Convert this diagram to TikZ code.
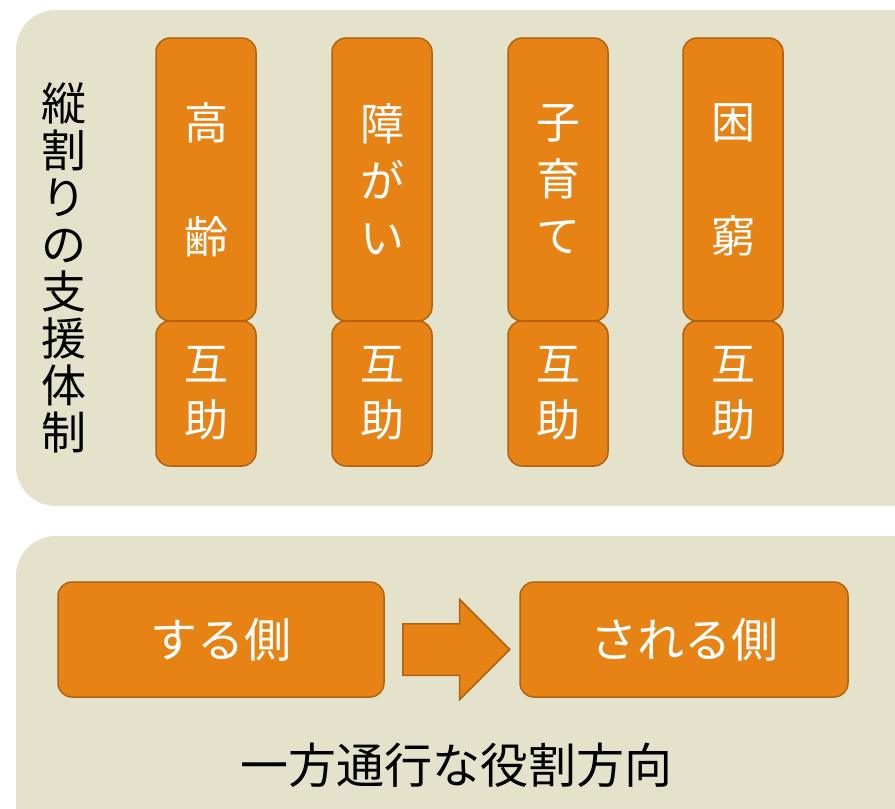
\documentclass[tikz,border=0pt]{standalone}
\usepackage{fontspec}
\setmainfont{Noto Sans CJK JP}
\usepackage{tikz}
\usetikzlibrary{shapes.arrows,positioning}
\definecolor{panelbg}{RGB}{228,226,203}
\definecolor{boxorange}{RGB}{230,131,20}
\definecolor{boxedge}{RGB}{176,98,14}
\tikzstyle{field} = [rectangle, rounded corners=14pt, draw=boxedge, fill=boxorange, line width=1.5pt, text=white, inner sep=0pt, align=center]
\tikzstyle{kanji} = [font=\fontsize{44}{57}\selectfont]
\tikzstyle{pair} = [font=\fontsize{44}{56}\selectfont]
\tikzstyle{wide} = [font=\fontsize{47}{50}\selectfont]

\begin{document}
\begin{tikzpicture}[x=1pt, y=-1pt]
\useasboundingbox (0,0) rectangle (895,809);
% Panels
\fill[panelbg, rounded corners=40pt] (16,10) rectangle (935,506);
\fill[panelbg, rounded corners=40pt] (16,536) rectangle (935,850);

% Vertical label
\node[align=center, font=\fontsize{45}{47}\selectfont] (vlabel) at (64,268) {縦\\割\\り\\の\\支\\援\\体\\制};

% Columns
\foreach \x/\name/\txt in {206/elder/{高\\\mbox{}\\齢}, 382/disab/{障\\が\\い}, 558/child/{子\\育\\て}, 733/poor/{困\\\mbox{}\\窮}} {
  \node[field, kanji, minimum width=100pt, minimum height=283pt] (\name) at (\x,179.5) {\txt};
  \node[field, pair, minimum width=100pt, minimum height=145pt] (\name-mutual) at (\x,393.5) {互\\助};
}

% Bottom row
\node[field, wide, minimum width=326pt, minimum height=115pt] (giver) at (221,639.5) {する側};
\node[field, wide, minimum width=328pt, minimum height=115pt] (taker) at (684,639.5) {される側};
\node[single arrow, draw=boxedge, fill=boxorange, line width=1.5pt, inner xsep=0pt, inner ysep=25pt, minimum height=107pt, single arrow head extend=24.5pt, single arrow tip angle=90, anchor=tail] (flow) at (402,649.5) {};

\node[font=\fontsize{48}{50}\selectfont] (caption) at (456,765) {一方通行な役割方向};
\end{tikzpicture}
\end{document}
